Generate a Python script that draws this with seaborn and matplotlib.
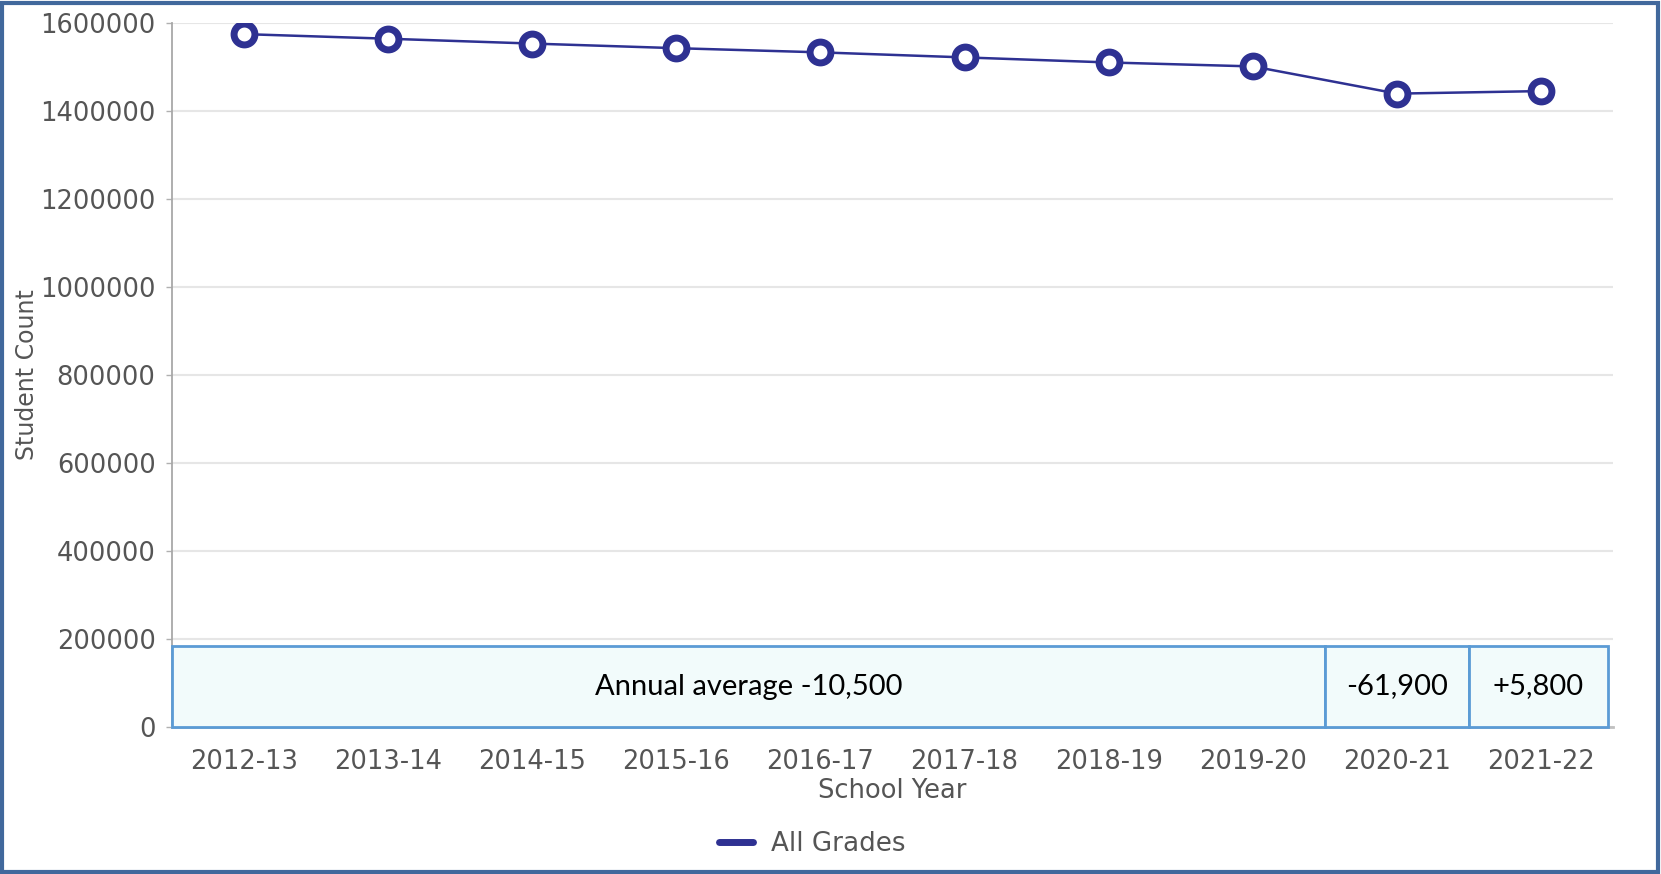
import numpy as np
import pandas as pd
import matplotlib
matplotlib.use("Agg")
import matplotlib.pyplot as plt
import seaborn as sns
from matplotlib.patches import Rectangle
from matplotlib.lines import Line2D

# データ
years = ["2012-13", "2013-14", "2014-15", "2015-16", "2016-17",
         "2017-18", "2018-19", "2019-20", "2020-21", "2021-22"]
counts = [1575500, 1565000, 1554000, 1543500, 1534000,
          1522500, 1511000, 1502000, 1440100, 1445900]
yticks = [0, 200000, 400000, 600000, 800000, 1000000,
          1200000, 1400000, 1600000]
box_labels = ["Annual average -10,500", "-61,900", "+5,800"]
box_first = ["2012-13", "2020-21", "2021-22"]
box_last = ["2019-20", "2020-21", "2021-22"]

df = pd.DataFrame({"year": years, "count": counts})

sns.set_style("white")
plt.rcParams["font.family"] = ["DejaVu Sans"]

navy = "#2e3192"
gray_txt = "#555555"

fig = plt.figure(figsize=(16.61, 8.74), dpi=100)
ax = fig.add_axes([0.1033, 0.1685, 0.868, 0.8048])

# グリッド
for v in yticks:
    ax.axhline(v, color="#e6e6e6", lw=1.5, zorder=0)

sns.lineplot(data=df, x="year", y="count", ax=ax, color=navy, lw=1.8,
             marker="o", markersize=15, markerfacecolor="white",
             markeredgecolor=navy, markeredgewidth=5, zorder=5)

# 注記ボックス
for lab, a, b in zip(box_labels, box_first, box_last):
    x0 = years.index(a) - 0.5
    x1 = years.index(b) + 0.5
    if b == years[-1]:
        x1 -= 0.04
    ax.add_patch(Rectangle((x0, 0), x1 - x0, 183000, facecolor="#f2fbfb",
                           edgecolor="#5b9bd5", lw=2, zorder=3, clip_on=False))
    ax.text((x0 + x1) / 2, 91500, lab, ha="center", va="center",
            fontsize=21, family=["Lato", "DejaVu Sans"], color="black", zorder=4)

ax.set_xlim(-0.5, len(years) - 0.5)
ax.set_ylim(0, 1600000)
ax.set_yticks(yticks)
ax.set_yticklabels([str(v) for v in yticks])
ax.set_xticks(range(len(years)))
ax.set_xticks(np.arange(len(years) + 1) - 0.5, minor=True)
ax.tick_params(axis="x", which="major", length=0, pad=16, labelsize=18.5, labelcolor=gray_txt)
ax.tick_params(axis="x", which="minor", length=9, width=1.5, color="#b0b0b0")
ax.tick_params(axis="y", length=4, width=1, color="#b0b0b0", pad=7.5,
               labelsize=18.5, labelcolor=gray_txt, left=True)

for s in ["top", "right"]:
    ax.spines[s].set_visible(False)
ax.spines["left"].set_color("#a8a8a8")
ax.spines["left"].set_linewidth(1.3)
ax.spines["bottom"].set_color("#c0c0c0")
ax.spines["bottom"].set_linewidth(2)

ax.set_xlabel("School Year", fontsize=18.5, color=gray_txt, labelpad=0)
ax.set_ylabel("Student Count", fontsize=17, color=gray_txt)
ax.yaxis.set_label_coords(-0.092, 0.5)
ax.xaxis.set_label_coords(0.5, -0.073)

handle = Line2D([], [], color=navy, lw=5)
fig.legend([handle], ["All Grades"], loc="center", bbox_to_anchor=(0.489, 0.034),
           frameon=False, fontsize=18.8, labelcolor=gray_txt, handlelength=1.3,
           handletextpad=0.7)

# 外枠
fig.patches.append(Rectangle((0.001, 0.002), 0.997, 0.995, transform=fig.transFigure,
                             fill=False, edgecolor="#41689c", lw=3))

fig.savefig("out.png", dpi=100)
